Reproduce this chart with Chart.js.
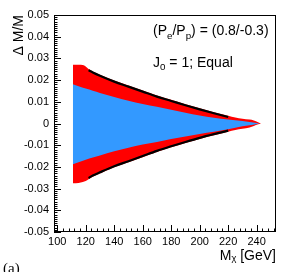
<!DOCTYPE html>
<html><head><meta charset="utf-8">
<script src="https://cdn.jsdelivr.net/npm/chart.js@4"></script>
<style>html,body{margin:0;padding:0;background:#fff;}#wrap{width:291px;height:272px;position:relative;}</style>
</head><body><div id="wrap"><canvas id="c" width="291" height="272"></canvas></div>
<script>
// ---- data ----
const massRed   = [111, 115, 118, 120, 122, 125, 130, 140, 150, 160, 170, 180, 190, 200, 210, 220, 225, 230, 235, 238, 241, 243];
const redUpper  = [0.0271, 0.0271, 0.0270, 0.0263, 0.0251, 0.0240, 0.0225, 0.0198, 0.0175, 0.0152, 0.0129, 0.0109, 0.0089, 0.0070, 0.0052, 0.0036, 0.0028, 0.0022, 0.0018, 0.0014, 0.0006, 0.0];
const redLower  = [-0.0275, -0.0274, -0.0270, -0.0265, -0.0257, -0.0245, -0.0230, -0.0202, -0.0179, -0.0155, -0.0131, -0.0110, -0.0090, -0.0071, -0.0054, -0.0038, -0.0030, -0.0024, -0.0018, -0.0012, -0.0004, 0.0];
const massBlue  = [111, 115, 120, 125, 130, 140, 150, 160, 170, 180, 190, 200, 210, 220, 230, 235, 240, 242];
const blueUpper = [0.0181, 0.0172, 0.0161, 0.0151, 0.0141, 0.0122, 0.0105, 0.0090, 0.0077, 0.0063, 0.0050, 0.0037, 0.0027, 0.0019, 0.0011, 0.0007, 0.0002, 0.0];
const blueLower = [-0.0188, -0.0178, -0.0167, -0.0157, -0.0147, -0.0128, -0.0112, -0.0097, -0.0085, -0.0072, -0.0060, -0.0048, -0.0038, -0.0027, -0.0013, -0.0008, -0.0002, 0.0];
const massLine  = [122, 125, 130, 140, 150, 160, 170, 180, 190, 200, 210, 220];
const lineUpper = [0.0245, 0.0235, 0.0220, 0.0193, 0.0170, 0.0147, 0.0124, 0.0104, 0.0084, 0.0065, 0.0047, 0.0030];
const lineLower = [-0.0251, -0.0240, -0.0225, -0.0197, -0.0174, -0.0150, -0.0126, -0.0105, -0.0085, -0.0066, -0.0049, -0.0033];
const xTickValues = [100, 120, 140, 160, 180, 200, 220, 240];
const yTickValues = [-0.05, -0.04, -0.03, -0.02, -0.01, 0, 0.01, 0.02, 0.03, 0.04, 0.05];
const xMinorStep = 4;
const yMinorStep = 0.001;
const xTitle = 'Mᵪ [GeV]';
const yTitle = 'Δ M/M';
const panelLabel = '(a)';

const pts = (xs, ys) => xs.map((x, i) => ({x: x, y: ys[i]}));
const FONT = '"Liberation Sans", Arial, Helvetica, sans-serif';
const RED = '#ff0000', BLUE = '#3399ff';

function drawSub(ctx, parts, x, y, size) {
  // parts: [text, isSub]
  for (const [t, sub] of parts) {
    ctx.font = (sub ? size * 0.7 : size) + 'px ' + FONT;
    ctx.fillText(t, x, sub ? y + size * 0.25 : y);
    x += ctx.measureText(t).width;
  }
}

const decor = {
  id: 'decor',
  afterDatasetsDraw(chart) {
    const {ctx, chartArea: a, scales: {x, y}} = chart;
    ctx.save();
    ctx.strokeStyle = '#000';
    ctx.lineWidth = 1;
    ctx.beginPath();
    // x ticks (inside the frame)
    const x0 = Math.ceil(x.min / xMinorStep) * xMinorStep;
    for (let v = x0; v <= x.max; v += xMinorStep) {
      const px = Math.round(x.getPixelForValue(v)) + 0.5;
      const len = (v % 20 === 0) ? 7 : 3.5;
      ctx.moveTo(px, a.bottom);
      ctx.lineTo(px, a.bottom - len);
    }
    // y ticks
    for (let k = -50; k <= 50; k++) {
      const v = k * yMinorStep;
      const py = Math.round(y.getPixelForValue(v)) + 0.5;
      const len = (k % 10 === 0) ? 7 : 3.5;
      ctx.moveTo(a.left, py);
      ctx.lineTo(a.left + len, py);
    }
    ctx.stroke();
    ctx.strokeRect(Math.round(a.left) + 0.5, Math.round(a.top) + 0.5, Math.round(a.width) - 1, Math.round(a.height) - 1);
    // annotations
    ctx.fillStyle = '#000';
    ctx.textBaseline = 'alphabetic';
    ctx.textAlign = 'left';
    drawSub(ctx, [['(P', false], ['e', true], ['/P', false], ['p', true], [') = (0.8/-0.3)', false]], 153, 35, 14);
    drawSub(ctx, [['J', false], ['0', true], [' = 1; Equal', false]], 153, 66.5, 14);
    ctx.font = '15px "Liberation Serif", "DejaVu Serif", serif';
    ctx.fillText(panelLabel, 3, 273);
    ctx.restore();
  }
};

new Chart(document.getElementById('c'), {
  type: 'line',
  data: {
    datasets: [
      {data: pts(massRed, redUpper), borderWidth: 0, backgroundColor: RED, borderColor: RED, fill: 1, order: 3},
      {data: pts(massRed, redLower), borderWidth: 0, backgroundColor: RED, borderColor: RED, fill: false, order: 3},
      {data: pts(massBlue, blueUpper), borderWidth: 0, backgroundColor: BLUE, borderColor: BLUE, fill: 3, order: 2},
      {data: pts(massBlue, blueLower), borderWidth: 0, backgroundColor: BLUE, borderColor: BLUE, fill: false, order: 2},
      {data: pts(massLine, lineUpper), borderWidth: 2.2, borderColor: '#000', fill: false, order: 1},
      {data: pts(massLine, lineLower), borderWidth: 2.2, borderColor: '#000', fill: false, order: 1}
    ]
  },
  options: {
    responsive: false,
    devicePixelRatio: 1,
    animation: false,
    layout: {padding: {top: 15, right: 15, left: 0, bottom: 0}},
    elements: {point: {radius: 0}, line: {cubicInterpolationMode: 'monotone'}},
    plugins: {legend: {display: false}, tooltip: {enabled: false}},
    scales: {
      x: {
        type: 'linear', min: 97.75, max: 253.56,
        afterBuildTicks: s => { s.ticks = xTickValues.map(v => ({value: v})); },
        afterFit: s => { s.height = 40; },
        grid: {display: false, drawTicks: false},
        border: {display: false},
        ticks: {font: {family: FONT, size: 11}, color: '#000', padding: 3, maxRotation: 0, autoSkip: false, callback: v => String(v)},
        title: {display: true, text: xTitle, align: 'end', color: '#000', font: {family: FONT, size: 14}, padding: {top: 0, bottom: 7}}
      },
      y: {
        type: 'linear', min: -0.05, max: 0.05,
        afterBuildTicks: s => { s.ticks = yTickValues.map(v => ({value: v})); },
        afterFit: s => { s.width = 54; },
        grid: {display: false, drawTicks: false},
        border: {display: false},
        ticks: {font: {family: FONT, size: 11}, color: '#000', padding: 5, autoSkip: false, callback: v => (Math.abs(v) < 1e-9 ? '0' : v.toFixed(2))},
        title: {display: true, text: yTitle, align: 'end', color: '#000', font: {family: FONT, size: 14}, padding: {top: 10.6, bottom: 0}}
      }
    }
  },
  plugins: [decor]
});
</script></body></html>
